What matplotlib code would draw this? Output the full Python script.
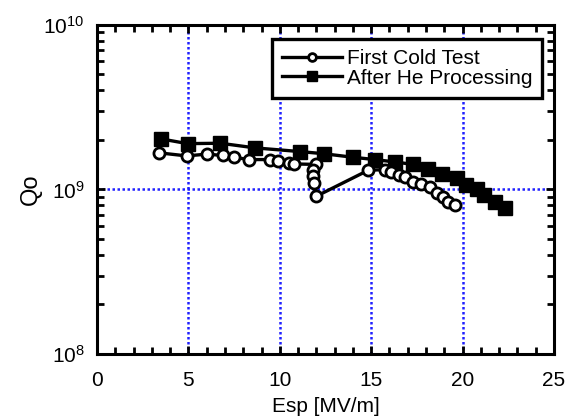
import numpy as np
import matplotlib
matplotlib.use("Agg")
import matplotlib.pyplot as plt
from matplotlib.ticker import LogLocator, MultipleLocator, NullFormatter

plt.rcParams['font.family'] = ['Liberation Sans', 'DejaVu Sans']
plt.rcParams['mathtext.fontset'] = 'custom'
plt.rcParams['mathtext.rm'] = 'Liberation Sans'
plt.rcParams['mathtext.it'] = 'Liberation Sans:italic'

# First Cold Test
esp_cold = [3.4, 4.9, 6.0, 6.9, 7.5, 8.3, 9.45, 9.9, 10.5, 10.8, 12.0,
            11.8, 11.8, 11.85, 12.0, 14.85, 15.75, 16.1, 16.5, 16.85,
            17.3, 17.75, 18.2, 18.6, 18.95, 19.2, 19.6]
q_cold = [1.67e9, 1.60e9, 1.64e9, 1.61e9, 1.57e9, 1.52e9, 1.52e9, 1.48e9,
          1.44e9, 1.43e9, 1.42e9, 1.31e9, 1.20e9, 1.09e9, 0.91e9, 1.31e9,
          1.32e9, 1.28e9, 1.22e9, 1.19e9, 1.11e9, 1.08e9, 1.03e9, 0.95e9,
          0.90e9, 0.84e9, 0.80e9]

# After He Processing
esp_he = [3.5, 4.95, 6.75, 8.65, 11.1, 12.4, 14.0, 15.2, 16.3, 17.3, 18.1,
          18.9, 19.7, 20.2, 20.8, 21.2, 21.8, 22.3]
q_he = [2.03e9, 1.90e9, 1.91e9, 1.79e9, 1.70e9, 1.65e9, 1.57e9, 1.52e9,
        1.47e9, 1.42e9, 1.34e9, 1.25e9, 1.17e9, 1.07e9, 1.01e9, 0.93e9,
        0.84e9, 0.77e9]

fig = plt.figure(figsize=(5.71, 4.16), dpi=100)
ax = fig.add_axes([0.170, 0.149, 0.800, 0.791])

ax.plot(esp_cold, q_cold, color='black', lw=2.4, marker='o', ms=8,
        mfc='white', mec='black', mew=2, label='First Cold Test', zorder=4)
ax.plot(esp_he, q_he, color='black', lw=2.4, marker='s', ms=10,
        mfc='black', mec='black', label='After He Processing', zorder=3)

ax.set_yscale('log')
ax.set_xlim(0, 25)
ax.set_ylim(1e8, 1e10)

ax.xaxis.set_major_locator(MultipleLocator(5))
ax.xaxis.set_minor_locator(MultipleLocator(1))
ax.yaxis.set_major_locator(LogLocator(base=10, numticks=5))
ax.yaxis.set_minor_locator(LogLocator(base=10, subs=np.arange(2, 10), numticks=20))
ax.yaxis.set_minor_formatter(NullFormatter())

ax.grid(True, which='major', color='#2020ff', linestyle=(0, (1, 1)), lw=1.8)
ax.set_axisbelow(True)

ax.tick_params(which='both', direction='in', top=True, right=True,
               labelsize=15, width=2)
ax.tick_params(axis='x', pad=12)
ax.tick_params(axis='y', pad=9)
ax.tick_params(which='major', length=6)
ax.tick_params(which='minor', length=5)
for sp in ax.spines.values():
    sp.set_linewidth(2.2)

ax.set_xlabel('Esp [MV/m]', fontsize=15, labelpad=5)
ax.set_ylabel('Qo', fontsize=17, labelpad=1)

leg = ax.legend(loc='upper right', bbox_to_anchor=(0.975, 0.958), fontsize=15,
                frameon=True, fancybox=False, framealpha=1, edgecolor='black',
                handlelength=2.9, handletextpad=0.2, borderpad=0.5,
                labelspacing=0.02, borderaxespad=0, markerscale=0.7)
leg.get_frame().set_linewidth(2.4)

fig.savefig('out.png', dpi=100)
